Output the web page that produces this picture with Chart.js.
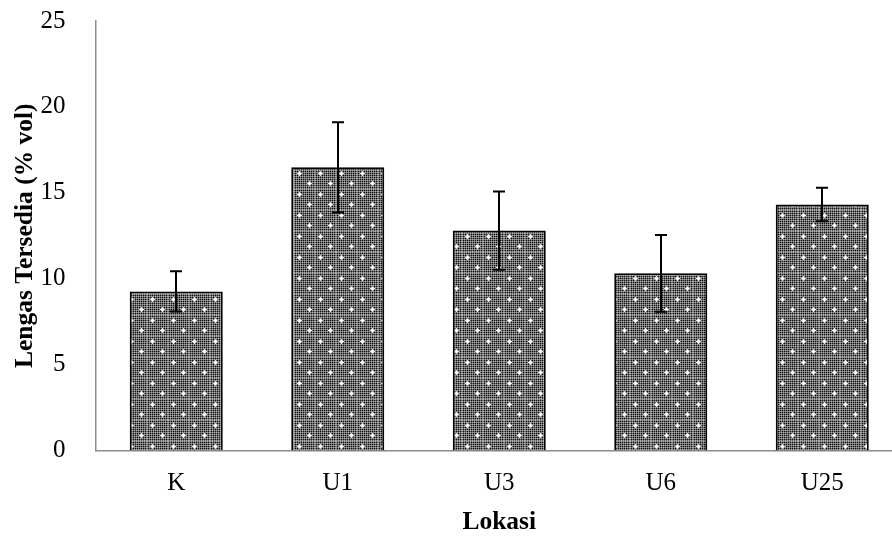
<!DOCTYPE html>
<html>
<head>
<meta charset="utf-8">
<script src="https://cdn.jsdelivr.net/npm/chart.js@4.4.1/dist/chart.umd.min.js"></script>
<style>
  html, body { margin: 0; padding: 0; background: #fff; overflow: hidden; }
  #wrap { width: 892px; height: 538px; overflow: hidden; }
</style>
</head>
<body>
<div id="wrap"><canvas id="lengasChart" width="903" height="538"></canvas></div>
<script>
var lokasi = ['K', 'U1', 'U3', 'U6', 'U25'];
var lengas = [9.26, 16.48, 12.80, 10.31, 14.32];
var galat = [1.17, 2.62, 2.28, 2.24, 0.98];
var yTicks = [0, 5, 10, 15, 20, 25];

// dotted fill like the spreadsheet pattern
function makePattern() {
  var t = document.createElement('canvas');
  t.width = 21; t.height = 21;
  var c = t.getContext('2d');
  c.fillStyle = '#707070';
  c.fillRect(0, 0, 21, 21);
  for (var y = 0; y < 21; y++) {
    for (var x = 0; x < 21; x++) {
      if (x % 2 === 1 && y % 2 === 1) {
        c.fillStyle = '#101010';
        c.fillRect(x, y, 1, 1);
      } else if (x % 2 === 0 && y % 2 === 0) {
        c.fillStyle = '#a8a8a8';
        c.fillRect(x, y, 1, 1);
      }
    }
  }
  function sparkle(px, py) {
    c.fillStyle = '#d8d8d8';
    c.fillRect(px - 2, py, 5, 1);
    c.fillRect(px, py - 2, 1, 5);
    c.fillRect(px - 1, py - 1, 3, 3);
    c.fillStyle = '#ffffff';
    c.fillRect(px - 1, py, 3, 1);
    c.fillRect(px, py - 1, 1, 3);
  }
  sparkle(5, 5);
  sparkle(15, 15);
  return c.createPattern(t, 'repeat');
}

var errorBars = {
  id: 'errorBars',
  afterDatasetsDraw: function(chart) {
    var ctx = chart.ctx;
    var yScale = chart.scales.y;
    var meta = chart.getDatasetMeta(0);
    ctx.save();
    ctx.strokeStyle = '#000';
    ctx.lineWidth = 2;
    meta.data.forEach(function(bar, i) {
      var x = Math.round(bar.x);
      var top = yScale.getPixelForValue(lengas[i] + galat[i]);
      var bot = yScale.getPixelForValue(lengas[i] - galat[i]);
      ctx.beginPath();
      ctx.moveTo(x, top); ctx.lineTo(x, bot);
      ctx.moveTo(x - 6, top); ctx.lineTo(x + 6, top);
      ctx.moveTo(x - 6, bot); ctx.lineTo(x + 6, bot);
      ctx.stroke();
    });
    ctx.restore();
  }
};

var ctx = document.getElementById('lengasChart').getContext('2d');
new Chart(ctx, {
  type: 'bar',
  data: {
    labels: lokasi,
    datasets: [{
      data: lengas,
      backgroundColor: makePattern(),
      borderColor: '#000',
      borderWidth: 2,
      barPercentage: 0.576,
      categoryPercentage: 1
    }]
  },
  options: {
    responsive: false,
    animation: false,
    layout: { padding: { top: 21, left: 0, right: 0, bottom: 0 } },
    plugins: {
      legend: { display: false },
      tooltip: { enabled: false }
    },
    scales: {
      x: {
        grid: { display: false, drawTicks: false },
        border: { color: '#8c8c8c', width: 1.5 },
        ticks: {
          color: '#000',
          padding: 18,
          font: { family: 'Liberation Serif', size: 25 }
        },
        title: {
          display: true,
          text: 'Lokasi',
          color: '#000',
          padding: { top: 0, bottom: 0 },
          font: { family: 'Liberation Serif', size: 25.5, weight: 'bold' }
        },
        afterFit: function(scale) {
          scale.height = 87.5;
          scale.paddingLeft = 0;
          scale.paddingRight = 0;
        }
      },
      y: {
        min: 0,
        max: 25,
        grid: { display: false, drawTicks: false },
        border: { color: '#8c8c8c', width: 1.5 },
        afterBuildTicks: function(scale) {
          scale.ticks = yTicks.map(function(v) { return { value: v }; });
        },
        ticks: {
          color: '#000',
          padding: 30,
          font: { family: 'Liberation Serif', size: 25 }
        },
        title: {
          display: true,
          text: 'Lengas Tersedia (% vol)',
          color: '#000',
          padding: { top: 10, bottom: 0 },
          font: { family: 'Liberation Serif', size: 25.5, weight: 'bold' }
        },
        afterFit: function(scale) {
          scale.width = 95.5;
          scale.paddingTop = 0;
          scale.paddingBottom = 0;
        }
      }
    }
  },
  plugins: [errorBars]
});
</script>
</body>
</html>
